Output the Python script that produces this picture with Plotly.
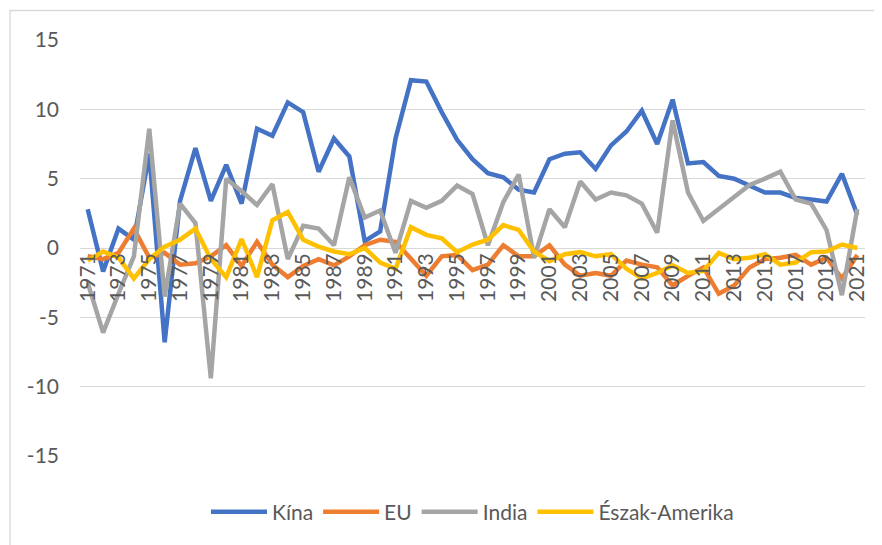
import plotly.graph_objects as go

years = list(range(1971, 2022))

kina = [2.8, -1.7, 1.4, 0.6, 6.8, -6.8, 3.4, 7.2, 3.4, 6.0, 3.2, 8.6, 8.1, 10.5, 9.8, 5.5, 7.9,
        6.6, 0.5, 1.2, 7.9, 12.1, 12.0, 9.8, 7.8, 6.4, 5.4, 5.1, 4.2, 4.0, 6.4, 6.8, 6.9,
        5.7, 7.4, 8.4, 9.9, 7.5, 10.7, 6.1, 6.2, 5.2, 5.0, 4.5, 4.0, 4.0, 3.6, 3.5, 3.35, 5.35, 2.4]

eu = [-0.6, -0.8, -0.35, 1.4, -0.7, -0.35, -1.2, -1.1, -0.6, 0.2, -1.3, 0.45, -1.2, -2.1, -1.3, -0.8, -1.25,
      -0.6, 0.2, 0.6, 0.45, -0.8, -2.0, -0.6, -0.5, -1.6, -1.2, 0.2, -0.6, -0.6, 0.2, -1.2, -2.0,
      -1.8, -2.0, -0.9, -1.2, -1.4, -2.7, -2.0, -1.4, -3.3, -2.7, -1.4, -0.8, -0.7, -0.5, -1.2, -0.7, -2.2, -0.5]

india = [-2.5, -6.1, -3.3, -0.6, 8.6, -3.5, 3.2, 1.8, -9.4, 5.0, 4.1, 3.1, 4.6, -0.8, 1.6, 1.4, 0.2,
         5.1, 2.2, 2.7, -0.35, 3.4, 2.9, 3.4, 4.5, 3.9, 0.2, 3.3, 5.3, -0.7, 2.8, 1.5, 4.8,
         3.5, 4.0, 3.8, 3.2, 1.1, 9.2, 4.0, 1.95, 2.8, 3.7, 4.55, 5.0, 5.5, 3.5, 3.2, 1.3, -3.4, 2.8]

eszak_amerika = [-0.9, -0.25, -0.7, -2.2, -0.8, 0.1, 0.6, 1.4, -0.8, -2.1, 0.65, -2.1, 2.0, 2.6, 0.6, 0.1, -0.25,
                 -0.45, 0.0, -1.05, -1.5, 1.5, 0.95, 0.7, -0.3, 0.25, 0.6, 1.65, 1.3, -0.25, -0.95, -0.45, -0.3,
                 -0.6, -0.45, -1.5, -2.2, -1.8, -1.25, -1.8, -1.65, -0.35, -0.8, -0.7, -0.45, -1.2, -1.05, -0.3, -0.25, 0.25, 0.0]

tick_years = years[::2]
tick_text = [str(y) for y in tick_years]

y_ticks = [-15, -10, -5, 0, 5, 10, 15]
y_text = [str(v) for v in y_ticks]

series = [
    ("Kína", kina, "#4472C4"),
    ("EU", eu, "#ED7D31"),
    ("India", india, "#A5A5A5"),
    ("Észak-Amerika", eszak_amerika, "#FFC000"),
]

fig = go.Figure()
for name, vals, color in series:
    fig.add_trace(go.Scatter(x=years, y=vals, mode="lines", name=name,
                             line=dict(color=color, width=4.5, shape="linear")))

font_family = "Lato, 'Open Sans', sans-serif"
txt = "#595959"

# page body has an 8px margin, so the figure is shrunk by 8px to fit the window
fig.update_layout(
    width=874, height=537,
    margin=dict(l=72, r=17, t=32, b=82),
    paper_bgcolor="white", plot_bgcolor="white",
    font=dict(family=font_family, size=21, color=txt),
    showlegend=True,
    legend=dict(orientation="h", x=0.5, xanchor="center", y=-0.135, yanchor="middle",
                font=dict(size=21, color=txt), itemwidth=56, traceorder="normal"),
    xaxis=dict(range=[1970.5, 2021.5], tickmode="array", tickvals=tick_years, ticktext=tick_text,
               tickangle=-90, showgrid=False, zeroline=False, showline=False, ticks="",
               anchor="free", position=0.5, tickfont=dict(size=21, color=txt)),
    yaxis=dict(range=[-15, 15], tickmode="array", tickvals=y_ticks, ticktext=y_text,
               showgrid=True, gridcolor="#D9D9D9", gridwidth=1.3,
               zeroline=False, showline=False, ticks="", ticklabelstandoff=20,
               tickfont=dict(size=21, color=txt)),
    shapes=[dict(type="rect", xref="paper", yref="paper",
                 x0=-0.0892, x1=1.04, y0=-0.25, y1=1.0709,
                 line=dict(color="#D9D9D9", width=1.3), fillcolor="rgba(0,0,0,0)", layer="below")],
)

fig.write_html("out.html")
